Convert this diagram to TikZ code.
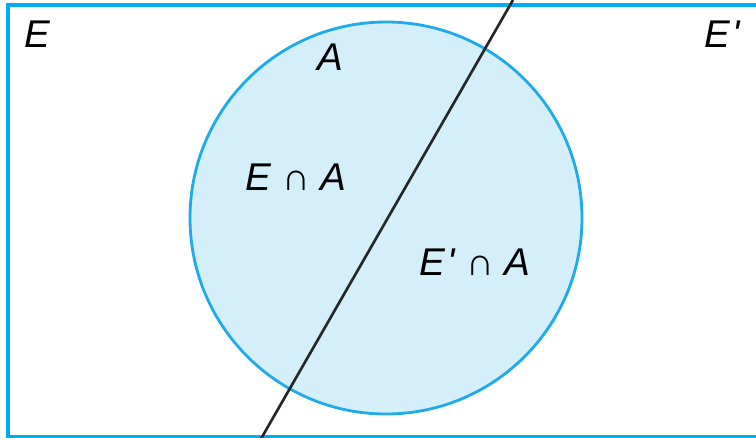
\documentclass[tikz,border=0pt]{standalone}
\usepackage{fontspec}
\setmainfont{Liberation Sans}
\definecolor{frameblue}{RGB}{0,174,239}
\definecolor{setfill}{RGB}{212,238,250}
\definecolor{setline}{RGB}{30,170,235}
\begin{document}
\begin{tikzpicture}[
      x=0.02cm, y=-0.02cm,
      % --- STYLES ---
      every node/.style={font=\fontsize{22}{26}\selectfont\itshape, inner sep=0pt},
      sample/.style={draw=frameblue, line width=2.2pt},
      setA/.style={draw=setline, fill=setfill, line width=1.6pt},
      cut/.style={draw=black!85, line width=1.5pt},
      lbl/.style={anchor=center}
  ]
    %
    % 1. Sample space
    \useasboundingbox (0,0) rectangle (756,438);
    \clip (0,0) rectangle (756,438);
    \draw[sample] (8,5) rectangle (790,437);
    %
    % 2. Event A
    \draw[setA] (386,218) circle [radius=196];
    %
    % 3. Boundary between E and E'
    \coordinate (cutTop) at (513,0);
    \coordinate (cutBot) at (258,444);
    \draw[cut] (cutTop) -- (cutBot);
    %
    % 4. Labels
    \node[lbl] (lblE) at (37,34) {E};
    \node[lbl] (lblEp) at (722,34) {E\kern1pt\textquotesingle};
    \node[lbl] (lblA) at (330,57) {A};
    \node[lbl] (lblEA) at (296,177) {E \textup{∩} A};
    \node[lbl] (lblEpA) at (475,262) {E\kern1pt\textquotesingle\ \textup{∩} A};
  \end{tikzpicture}
\end{document}
